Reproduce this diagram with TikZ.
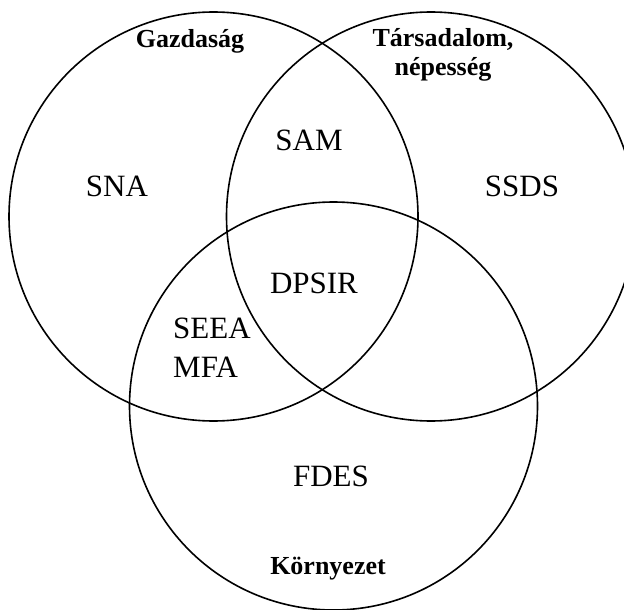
\documentclass[tikz,border=0pt]{standalone}
\usepackage{fontspec}
\setmainfont{Liberation Serif}
\begin{document}
\begin{tikzpicture}[x=1pt,y=-1pt,
  ring/.style={draw=black,line width=1.6pt},
  lab/.style={inner sep=0pt,anchor=base,font=\fontsize{31}{36}\selectfont},
  title/.style={inner sep=0pt,anchor=base,font=\fontsize{26}{30}\selectfont\bfseries}]
\useasboundingbox (0,0) rectangle (624,610);
\clip (0,0) rectangle (624,610);
\fill[white] (0,0) rectangle (624,610);
\draw[ring] (213.5,216.5) circle[radius=204.5];
\draw[ring] (431,216.5) circle[radius=204.5];
\draw[ring] (333.5,406) circle[radius=204];
\node[title] (gazd) at (190,48) {Gazdaság};
\node[title] (tars) at (443,47) {Társadalom,};
\node[title] (nep) at (443,76) {népesség};
\node[title] (korny) at (328,574) {Környezet};
\node[lab] (sna) at (117,196) {SNA};
\node[lab] (sam) at (309,150) {SAM};
\node[lab] (ssds) at (522,196) {SSDS};
\node[lab] (dpsir) at (314,293) {DPSIR};
\node[lab,anchor=base west] (seea) at (173,338) {SEEA};
\node[lab,anchor=base west] (mfa) at (173,377) {MFA};
\node[lab] (fdes) at (331,486) {FDES};
\end{tikzpicture}
\end{document}
